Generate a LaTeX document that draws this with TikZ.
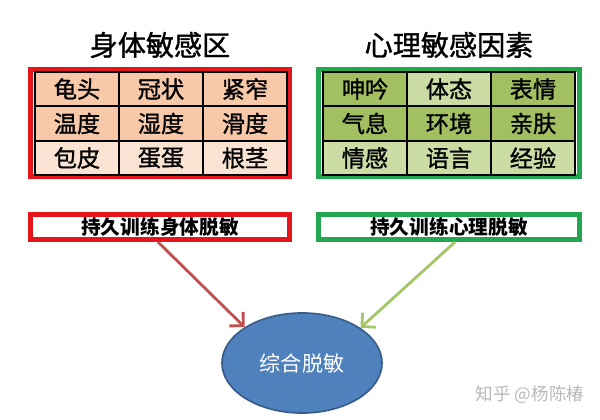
\documentclass[tikz,border=0pt]{standalone}
\usepackage{fontspec}
\setmainfont{Noto Sans CJK SC}
\newfontfamily\heifont[BoldFont=Noto Sans CJK SC, BoldFeatures={FakeBold=1.2}]{Noto Sans CJK SC}
\usetikzlibrary{arrows.meta}
\usetikzlibrary{positioning}
\usetikzlibrary{shapes.geometric}
\definecolor{boxred}{HTML}{E3161B}
\definecolor{boxgreen}{HTML}{22A64E}
\definecolor{peach}{HTML}{F8C9A9}
\definecolor{peachlight}{HTML}{FBE3D4}
\definecolor{olive}{HTML}{A2BF62}
\definecolor{olivelight}{HTML}{CCDCA5}
\definecolor{ellblue}{HTML}{4F81BD}
\definecolor{ellline}{HTML}{385D8A}
\definecolor{arrred}{HTML}{C0504D}
\definecolor{arrgreen}{HTML}{A3C666}
\tikzset{
  title/.style={font=\fontsize{20}{20}\selectfont\heifont\bfseries, inner sep=0pt},
  cell/.style={draw=black, line width=1.4pt, minimum width=2.1cm, minimum height=0.86cm,
    inner sep=0pt, font=\fontsize{16.5}{16.5}\selectfont\heifont\bfseries},
  frame/.style={line width=3.6pt},
  bar/.style={fill=white, line width=3.6pt, minimum height=0.625cm, inner sep=0pt,
    font=\fontsize{14}{14}\selectfont\bfseries},
  link/.style={line width=2pt, -{Straight Barb[length=7pt, width=14pt, line width=2pt]}}
}
\begin{document}
\begin{tikzpicture}[x=0.025cm, y=-0.025cm]
\useasboundingbox (0,0) rectangle (600,420);
% titles
\node[title] (ttl1) at (160,45) {身体敏感区};
\node[title] (ttl2) at (449,45) {心理敏感因素};
% frames
\draw[frame, boxred] (30.5,69.5) rectangle (289.5,176.5);
\draw[frame, boxgreen] (318.5,69.5) rectangle (579.5,176.5);
% body table
\foreach \n/\x/\y/\t/\c in {1/77/89/龟头/peach, 2/161/89/冠状/peach, 3/245/89/紧窄/peach,
    4/77/123.5/温度/peach, 5/161/123.5/湿度/peach, 6/245/123.5/滑度/peach,
    7/77/158/包皮/peachlight, 8/161/158/蛋蛋/peachlight, 9/245/158/根茎/peachlight}
  \node[cell, fill=\c] (r\n) at (\x,\y) {\t};
% mind table
\foreach \n/\x/\y/\t/\c in {1/365/89/呻吟/olive, 2/449/89/体态/olivelight, 3/533/89/表情/olive,
    4/365/123.5/气息/olive, 5/449/123.5/环境/olive, 6/533/123.5/亲肤/olive,
    7/365/158/情感/olivelight, 8/449/158/语言/olivelight, 9/533/158/经验/olivelight}
  \node[cell, fill=\c] (g\n) at (\x,\y) {\t};
% bars
\node[bar, draw=boxred, minimum width=6.475cm] (rbar) at (160,227) {持久训练身体脱敏};
\node[bar, draw=boxgreen, minimum width=6.5cm] (gbar) at (449,227) {持久训练心理脱敏};
% result
\node[ellipse, draw=ellline, line width=1.2pt, fill=ellblue, minimum width=4cm, minimum height=2.5cm,
  text=white, font=\fontsize{15}{15}\selectfont] (ell) at (302,363) {综合脱敏};
\draw[link, arrred] ([xshift=-0.05cm]rbar.south) -- (ell.148);
\draw[link, arrgreen] ([xshift=0.15cm]gbar.south) -- (ell.31);
% mark
\node[text=black!28, font=\fontsize{12.5}{12.5}\selectfont] (mark) at (530,395) {知乎 @杨陈椿};
\end{tikzpicture}
\end{document}
